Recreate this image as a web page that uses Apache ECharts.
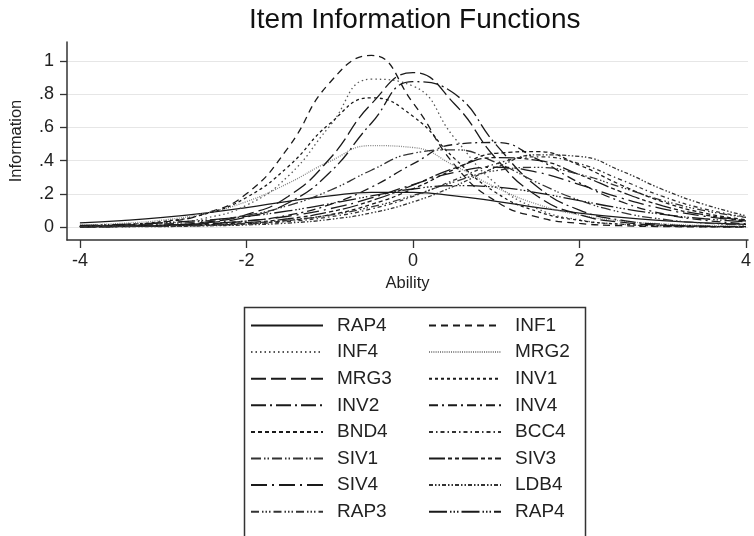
<!DOCTYPE html>
<html>
<head>
<meta charset="utf-8">
<title>Item Information Functions</title>
<script src="https://cdn.jsdelivr.net/npm/echarts@6/dist/echarts.min.js"></script>
<style>
  html, body { margin: 0; padding: 0; background: #fff; }
  #container { width: 754px; height: 536px; }
</style>
</head>
<body>
<div id="container"></div>
<script>
// ability grid (x values every 0.5)
var ability = [-4, -3.5, -3, -2.5, -2, -1.5, -1, -0.5, 0, 0.5, 1, 1.5, 2, 2.5, 3, 3.5, 4];

var xTicks = [-4, -2, 0, 2, 4];
var yTicks = [0, 0.2, 0.4, 0.6, 0.8, 1];

// item names, legend order (two columns, left then right)
var items = ['RAP4', 'INF1', 'INF4', 'MRG2', 'MRG3', 'INV1', 'INV2', 'INV4',
             'BND4', 'BCC4', 'SIV1', 'SIV3', 'SIV4', 'LDB4', 'RAP3', 'RAP4'];

// information values
var rap4a = [0.025, 0.039, 0.058, 0.084, 0.117, 0.155, 0.188, 0.209, 0.209, 0.188, 0.155, 0.117, 0.084, 0.058, 0.039, 0.025, 0.016];
var inf1  = [0.004, 0.011, 0.029, 0.081, 0.200, 0.477, 0.869, 1.033, 0.748, 0.374, 0.154, 0.059, 0.022, 0.008, 0.003, 0.001, 0.000];
var inf4  = [0.003, 0.008, 0.021, 0.053, 0.131, 0.306, 0.607, 0.890, 0.849, 0.536, 0.259, 0.109, 0.043, 0.017, 0.006, 0.002, 0.001];
var mrg2  = [0.011, 0.022, 0.042, 0.083, 0.153, 0.263, 0.395, 0.490, 0.479, 0.369, 0.238, 0.136, 0.073, 0.037, 0.019, 0.009, 0.005];
var mrg3  = [0.002, 0.004, 0.011, 0.029, 0.075, 0.184, 0.411, 0.741, 0.930, 0.741, 0.411, 0.184, 0.075, 0.029, 0.011, 0.004, 0.002];
var inv1  = [0.006, 0.014, 0.034, 0.078, 0.178, 0.363, 0.622, 0.778, 0.667, 0.412, 0.206, 0.093, 0.040, 0.017, 0.007, 0.003, 0.001];
var inv2  = [0.001, 0.004, 0.009, 0.024, 0.060, 0.145, 0.328, 0.625, 0.875, 0.802, 0.495, 0.240, 0.102, 0.041, 0.016, 0.006, 0.002];
var inv4  = [0.002, 0.004, 0.009, 0.018, 0.036, 0.071, 0.135, 0.240, 0.380, 0.497, 0.509, 0.407, 0.266, 0.153, 0.080, 0.041, 0.020];
var bnd4  = [0.001, 0.003, 0.005, 0.010, 0.020, 0.039, 0.074, 0.136, 0.230, 0.348, 0.444, 0.454, 0.372, 0.253, 0.152, 0.084, 0.044];
var bcc4  = [0.001, 0.003, 0.005, 0.009, 0.018, 0.033, 0.061, 0.109, 0.184, 0.284, 0.381, 0.423, 0.381, 0.284, 0.184, 0.109, 0.061];
var siv1  = [0.005, 0.010, 0.019, 0.036, 0.070, 0.129, 0.220, 0.342, 0.444, 0.465, 0.388, 0.266, 0.161, 0.089, 0.047, 0.024, 0.012];
var siv3  = [0.002, 0.004, 0.008, 0.014, 0.027, 0.050, 0.091, 0.158, 0.252, 0.355, 0.418, 0.401, 0.315, 0.212, 0.128, 0.073, 0.039];
var siv4  = [0.004, 0.006, 0.012, 0.021, 0.037, 0.065, 0.110, 0.175, 0.256, 0.329, 0.360, 0.329, 0.256, 0.175, 0.110, 0.065, 0.037];
var ldb4  = [0.001, 0.002, 0.003, 0.007, 0.013, 0.024, 0.046, 0.085, 0.151, 0.247, 0.359, 0.435, 0.425, 0.338, 0.226, 0.136, 0.068];
var rap3  = [0.002, 0.004, 0.007, 0.013, 0.023, 0.042, 0.072, 0.121, 0.190, 0.273, 0.340, 0.359, 0.317, 0.240, 0.160, 0.099, 0.058];
var rap4b = [0.010, 0.016, 0.026, 0.041, 0.064, 0.097, 0.140, 0.187, 0.229, 0.249, 0.240, 0.206, 0.159, 0.113, 0.076, 0.050, 0.031];

var values = [rap4a, inf1, inf4, mrg2, mrg3, inv1, inv2, inv4,
              bnd4, bcc4, siv1, siv3, siv4, ldb4, rap3, rap4b];

// line patterns, one per item
var dashes = [
    'solid',
    [7, 5],
    [1.5, 3],
    [1, 1.2],
    [15, 5],
    [3, 3],
    [15, 4, 2, 4],
    [9, 4, 2, 4],
    [4, 3],
    [4, 3, 1.5, 3],
    [10, 3, 1.5, 2, 1.5, 3],
    [16, 3, 4, 3, 4, 3],
    [16, 5, 2, 5],
    [4, 2, 1.5, 2, 1.5, 2],
    [8, 3, 1.5, 2, 1.5, 2, 1.5, 3],
    [18, 3, 1.5, 2, 1.5, 2, 1.5, 3]
];
var colors = ['#1a1a1a', '#1a1a1a', '#555', '#888', '#1a1a1a', '#1a1a1a', '#1a1a1a', '#1a1a1a',
              '#1a1a1a', '#333', '#333', '#1a1a1a', '#1a1a1a', '#333', '#333', '#1a1a1a'];

var FONT = 'Liberation Sans, Arial, sans-serif';

var myChart = echarts.init(document.getElementById('container'));

var seriesNames = items.map(function (n, i) {
    return items.indexOf(n) !== i ? n + '#' + i : n;
});

var series = values.map(function (vals, i) {
    return {
        name: seriesNames[i],
        type: 'line',
        smooth: 0.5,
        showSymbol: false,
        symbol: 'none',
        silent: true,
        data: ability.map(function (a, k) { return [a, vals[k]]; }),
        lineStyle: { color: colors[i], width: 1.3, type: dashes[i] },
        itemStyle: { color: colors[i] }
    };
});

function legendCol(idx, left) {
    return {
        orient: 'vertical',
        left: left,
        top: 316,
        height: 230,
        padding: 0,
        itemWidth: 72,
        itemHeight: 14,
        itemGap: 7.6,
        selectedMode: false,
        itemStyle: { opacity: 0 },
        data: seriesNames.filter(function (n, i) { return i % 2 === idx; }),
        formatter: function (n) { return n.split('#')[0]; },
        textStyle: { fontFamily: FONT, fontSize: 19, color: '#222', padding: [0, 0, 0, 9] }
    };
}

var option = {
    backgroundColor: '#fff',
    animation: false,
    title: {
        text: 'Item Information Functions',
        left: 244,
        top: 1,
        textStyle: { fontFamily: FONT, fontSize: 28, fontWeight: 'normal', color: '#111' }
    },
    grid: { left: 64, right: 4, top: 42, bottom: 296 },
    xAxis: {
        type: 'value',
        min: -4.155,
        max: 4.024,
        name: 'Ability',
        nameLocation: 'middle',
        nameGap: 35,
        nameTextStyle: { fontFamily: FONT, fontSize: 16.5, color: '#222' },
        axisLine: { show: true, onZero: false, lineStyle: { color: '#333', width: 1.5 } },
        axisTick: { show: true, length: 8, customValues: xTicks, lineStyle: { color: '#333', width: 1.3 } },
        axisLabel: { customValues: xTicks, margin: 12, fontFamily: FONT, fontSize: 18, color: '#222' },
        splitLine: { show: false }
    },
    yAxis: {
        type: 'value',
        min: -0.078,
        max: 1.114,
        name: 'Information',
        nameLocation: 'middle',
        nameGap: 42,
        nameTextStyle: { fontFamily: FONT, fontSize: 16.5, color: '#222' },
        axisLine: { show: true, onZero: false, lineStyle: { color: '#333', width: 1.5 } },
        axisTick: { show: true, length: 7, customValues: yTicks, lineStyle: { color: '#333', width: 1.3 } },
        axisLabel: {
            customValues: yTicks,
            margin: 13,
            fontFamily: FONT,
            fontSize: 18,
            color: '#222',
            formatter: function (v) {
                if (v === 0) return '0';
                if (v === 1) return '1';
                return String(v).replace(/^0\./, '.');
            }
        },
        splitLine: { show: true, lineStyle: { color: '#e6e6e6', width: 1.2 } }
    },
    legend: [legendCol(0, 250), legendCol(1, 428)],
    graphic: [{
        type: 'rect',
        left: 242,
        top: 305,
        shape: { width: 341, height: 260 },
        style: { fill: 'none', stroke: '#333', lineWidth: 1.5 },
        silent: true
    }],
    series: series
};

myChart.setOption(option, true);
window.onresize = function () {
    myChart.resize();
};
</script>
</body>
</html>
